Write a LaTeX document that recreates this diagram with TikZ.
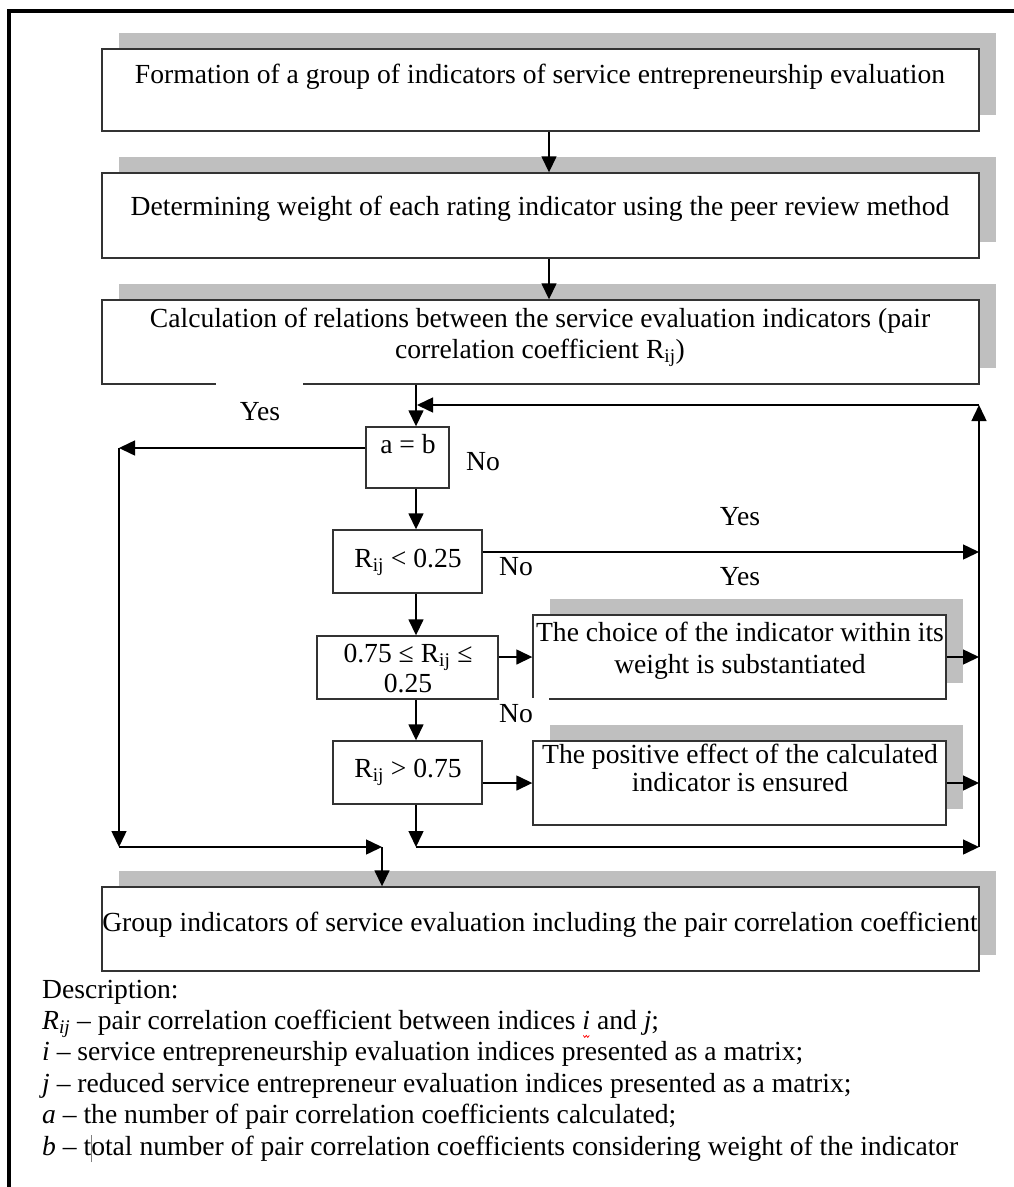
\documentclass[tikz,border=0pt]{standalone}
\usepackage{fontspec}
\setmainfont{Liberation Serif}
\usetikzlibrary{arrows.meta,fit,shadows}
\definecolor{shadowc}{HTML}{BFBFBF}
\definecolor{boxc}{HTML}{333333}
\newcommand\squigi{\tikz[baseline=(sq.base),x=1pt,y=1pt]{\node[inner sep=0pt,anchor=base] (sq) at (0,0) {\textit{i}};
  \draw[red,line width=0.7pt] (-3,-6)--(-1.5,-8)--(0,-6)--(1.5,-8)--(3,-6);}}
\newcommand\cursorbar{\rlap{\hspace{-0.5pt}\textcolor{gray}{\rule[-7pt]{0.7pt}{27pt}}}}
\begin{document}
\begin{tikzpicture}[x=1pt,y=-1pt,
  font=\fontsize{27.6}{31.4}\selectfont,
  box/.style={draw=boxc, line width=1.4pt, fill=white, inner sep=0pt},
  sbox/.style={box, drop shadow={shadow xshift=16.5pt, shadow yshift=16.5pt, fill=shadowc, opacity=1}},
  arr/.style={draw=black, line width=1.5pt, -{Triangle[length=16pt,width=15pt]}},
  txt/.style={anchor=base, inner sep=0pt},
  desc/.style={anchor=base west, inner sep=0pt},
]
\useasboundingbox (0,0) rectangle (1014,1187);
% frame
\draw[line width=3.5pt] (9,1195) -- (9,11) -- (1020,11);

% big boxes
\node[sbox, fit={(102,49)(979,131)}] (b1) {};
\node[sbox, fit={(102,173)(979,258)}] (b2) {};
\node[sbox, fit={(102,300)(979,384)}] (b3) {};
\node[sbox, fit={(102,887)(979,971)}] (b4) {};
\node[sbox, fit={(533,615)(946,699)}] (ch) {};
\node[sbox, fit={(533,741)(946,825)}] (pos) {};
% decision boxes
\node[box, fit={(366,427)(449,488)}] (ab) {};
\node[box, fit={(333,530)(482,593)}] (r1) {};
\node[box, fit={(317,636)(498,699)}] (r2) {};
\node[box, fit={(333,741)(482,804)}] (r3) {};

% gaps in borders
\fill[white] (216,382) rectangle (303,387);
\fill[white] (531,697.6) rectangle (548.5,701);

% texts
\node[txt] (t1) at (540,83) {Formation of a group of indicators of service entrepreneurship evaluation};
\node[txt] (t2) at (540,215) {Determining weight of each rating indicator using the peer review method};
\node[txt] (t3a) at (540,327) {Calculation of relations between the service evaluation indicators (pair};
\node[txt] (t3b) at (540,358) {correlation coefficient R\textsubscript{ij})};
\node[txt] (t4) at (540,931) {Group indicators of service evaluation including the pair correlation coefficient};
\node[txt] (tab) at (408,453) {a = b};
\node[txt] (tr1) at (408,567) {R\textsubscript{ij} < 0.25};
\node[txt] (tr2a) at (408,662) {0.75 ≤ R\textsubscript{ij} ≤};
\node[txt] (tr2b) at (408,692) {0.25};
\node[txt] (tr3) at (408,777) {R\textsubscript{ij} > 0.75};
\node[txt] (tcha) at (740,641) {The choice of the indicator within its};
\node[txt] (tchb) at (740,673) {weight is substantiated};
\node[txt] (tpa) at (740,763) {The positive effect of the calculated};
\node[txt] (tpb) at (740,791) {indicator is ensured};

% labels
\node[txt] (yes1) at (260,420) {Yes};
\node[txt] (no1) at (483,470) {No};
\node[txt] (yes2) at (740,525) {Yes};
\node[txt] (no2) at (516,575) {No};
\node[txt] (yes3) at (740,585) {Yes};
\node[txt] (no3) at (516,722) {No};

% junction coordinates
\coordinate (xA) at (549,0);
\coordinate (xC) at (416,0);
\coordinate (xR) at (979,0);
\coordinate (jL1) at (119,448);
\coordinate (jL2) at (119,847);
\coordinate (jB) at (382,847);
\coordinate (jM) at (416,847);
\coordinate (jRB) at (979,847);
\coordinate (jRT) at (979,405);
\coordinate (jLoop) at (417,405);
\coordinate (y552) at (0,552);
\coordinate (y657) at (0,657);
\coordinate (y783) at (0,783);

% connectors
\draw[arr] (b1.south -| xA) -- (b2.north -| xA);
\draw[arr] (b2.south -| xA) -- (b3.north -| xA);
\draw[arr] (b3.south -| xC) -- (ab.north -| xC);
\draw[arr] (jRB) -- (jRT);
\draw[arr] (jRT) -- (jLoop);
\draw[arr] (ab.west |- jL1) -- (jL1);
\draw[arr] (jL1) -- (jL2);
\draw[arr] (jL2) -- (jB);
\draw[arr] (jB) -- (b4.north -| jB);
\draw[arr] (ab.south -| xC) -- (r1.north -| xC);
\draw[arr] (r1.east |- y552) -- (xR |- y552);
\draw[arr] (r1.south -| xC) -- (r2.north -| xC);
\draw[arr] (r2.east |- y657) -- (ch.west |- y657);
\draw[arr] (ch.east |- y657) -- (xR |- y657);
\draw[arr] (r2.south -| xC) -- (r3.north -| xC);
\draw[arr] (r3.east |- y783) -- (pos.west |- y783);
\draw[arr] (pos.east |- y783) -- (xR |- y783);
\draw[arr] (r3.south -| xC) -- (jM);
\draw[arr] (jM) -- (jRB);

% description
\node[desc] (d0) at (42,998) {Description:};
\node[desc] (d1) at (42,1029.4) {\textit{R\textsubscript{ij}} – pair correlation coefficient between indices \squigi{} and \textit{j};};
\node[desc] (d2) at (42,1060.8) {\textit{i} – service entrepreneurship evaluation indices presented as a matrix;};
\node[desc] (d3) at (42,1092.2) {\textit{j} – reduced service entrepreneur evaluation indices presented as a matrix;};
\node[desc] (d4) at (42,1123.6) {\textit{a} – the number of pair correlation coefficients calculated;};
\node[desc] (d5) at (42,1155) {\textit{b} – t\cursorbar otal number of pair correlation coefficients considering weight of the indicator};
\end{tikzpicture}
\end{document}
